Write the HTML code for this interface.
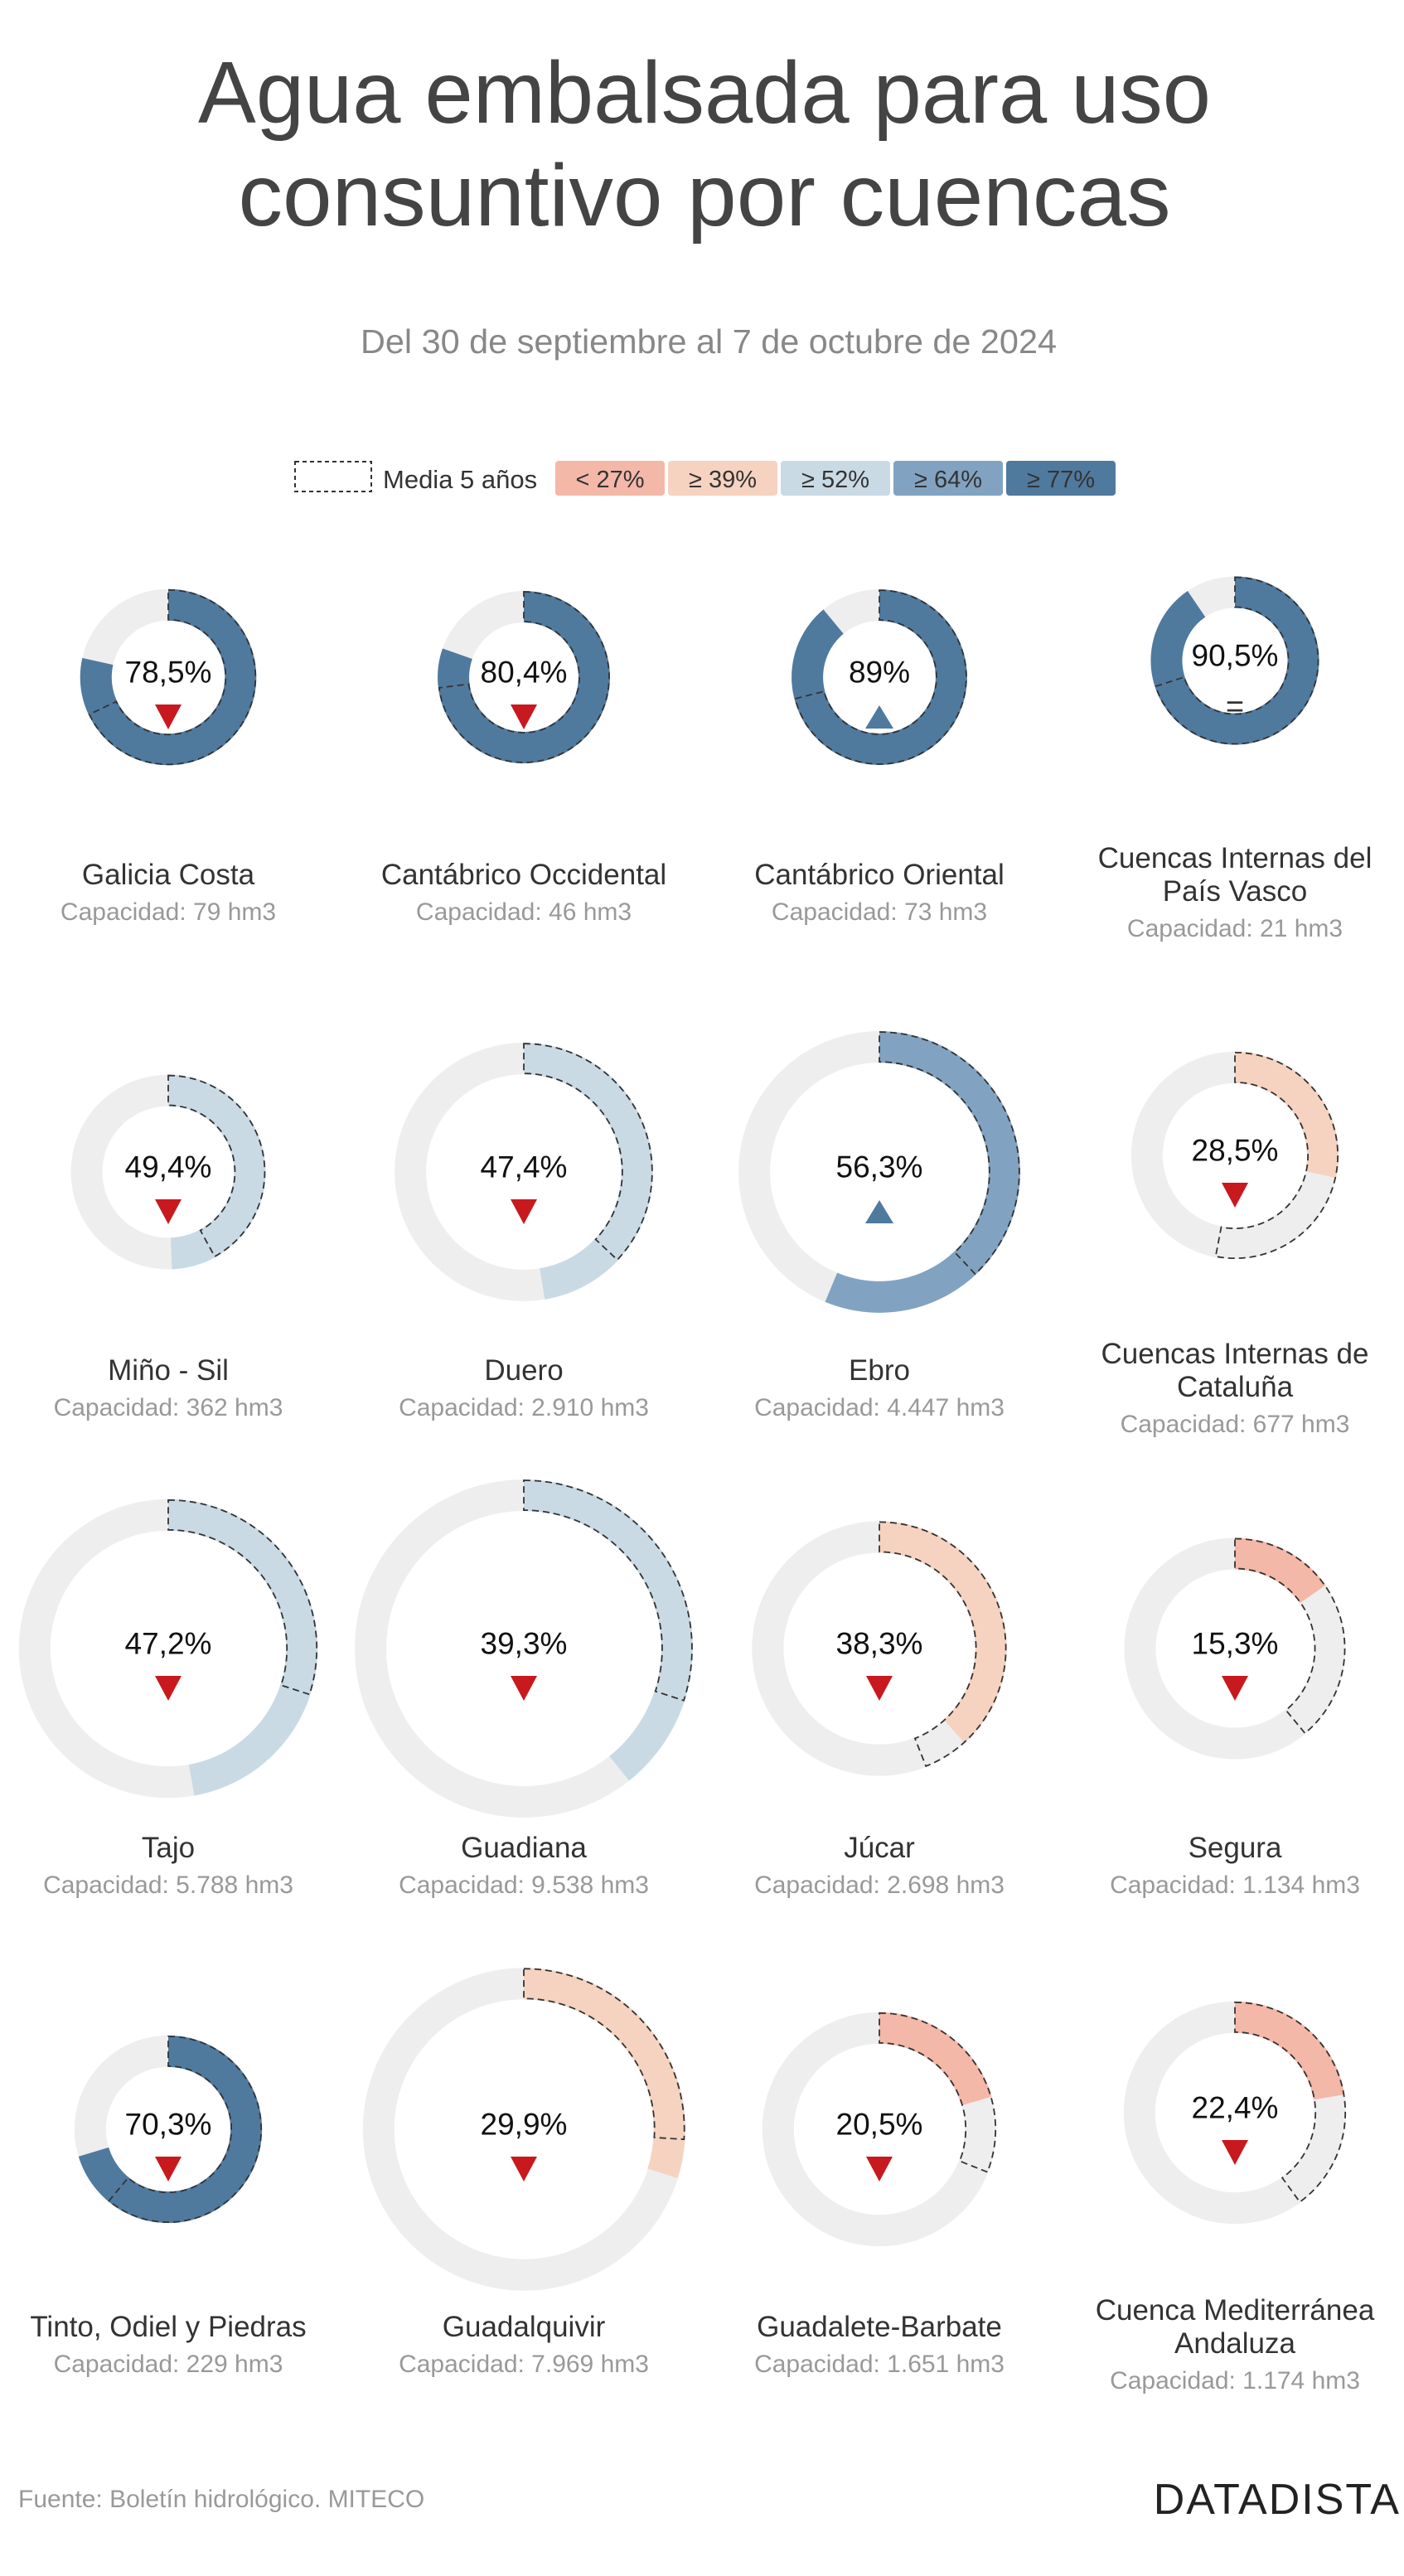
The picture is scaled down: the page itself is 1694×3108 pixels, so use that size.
<!DOCTYPE html>
<html><head><meta charset="utf-8"><style>
html,body{margin:0;padding:0;background:#fff;}
svg{display:block;font-family:"Liberation Sans",sans-serif;}
</style></head><body>
<svg id="chart" width="1694" height="3108" viewBox="0 0 1694 3108" xmlns="http://www.w3.org/2000/svg">
<text x="850" y="148" text-anchor="middle" font-size="106" fill="#444" textLength="1222" lengthAdjust="spacingAndGlyphs">Agua embalsada para uso</text>
<text x="850" y="272" text-anchor="middle" font-size="106" fill="#444" textLength="1125" lengthAdjust="spacingAndGlyphs">consuntivo por cuencas</text>
<text x="855" y="426" text-anchor="middle" font-size="41" fill="#888" textLength="840" lengthAdjust="spacingAndGlyphs">Del 30 de septiembre al 7 de octubre de 2024</text>
<g>
<rect x="356" y="557" width="92" height="36" fill="none" stroke="#333" stroke-width="2" stroke-dasharray="5 4"/>
<text x="462" y="589" font-size="31" fill="#333">Media 5 años</text>
<g id="legendBoxes"></g>
</g>
<g id="donuts"></g>
<text x="22" y="3025" font-size="30" fill="#999">Fuente: Boletín hidrológico. MITECO</text>
<text x="1690" y="3033" text-anchor="end" font-size="52" fill="#222" letter-spacing="2">DATADISTA</text>
</svg>
<script>
const names = [["Galicia Costa"],["Cantábrico Occidental"],["Cantábrico Oriental"],["Cuencas Internas del","País Vasco"],
["Miño - Sil"],["Duero"],["Ebro"],["Cuencas Internas de","Cataluña"],
["Tajo"],["Guadiana"],["Júcar"],["Segura"],
["Tinto, Odiel y Piedras"],["Guadalquivir"],["Guadalete-Barbate"],["Cuenca Mediterránea","Andaluza"]];
const capacities = [79,46,73,21,362,2910,4447,677,5788,9538,2698,1134,229,7969,1651,1174];
const capLabels = ["79","46","73","21","362","2.910","4.447","677","5.788","9.538","2.698","1.134","229","7.969","1.651","1.174"];
const values = [78.5,80.4,89,90.5,49.4,47.4,56.3,28.5,47.2,39.3,38.3,15.3,70.3,29.9,20.5,22.4];
const valueLabels = ["78,5%","80,4%","89%","90,5%","49,4%","47,4%","56,3%","28,5%","47,2%","39,3%","38,3%","15,3%","70,3%","29,9%","20,5%","22,4%"];
const means = [68,73,71,70,42,37,38,53,30,30,44,39,61,26,31,40];
const trends = ["down","down","up","equal","down","down","up","down","down","down","down","down","down","down","down","down"];
const thresholds = [27,39,52,64];
const legendLabels = ["< 27%","≥ 39%","≥ 52%","≥ 64%","≥ 77%"];
const colors = ["#f4b8a8","#f5d3c0","#c9dae5","#81a3c1","#50799e"];

const NS="http://www.w3.org/2000/svg";
function mk(tag,attrs,parent){const e=document.createElementNS(NS,tag);for(const k in attrs)e.setAttribute(k,attrs[k]);parent.appendChild(e);return e;}
function colorFor(v){let i=0;while(i<thresholds.length&&v>=thresholds[i])i++;return colors[i];}
function rScale(c){return 96.5+1.1*Math.sqrt(c);}
function pt(cx,cy,r,f){const a=f*2*Math.PI;return [cx+r*Math.sin(a),cy-r*Math.cos(a)];}
function arcPath(cx,cy,ro,ri,f0,f1){
 if(f1-f0>=0.9999)f1=f0+0.9999;
 const l=(f1-f0)>0.5?1:0;
 const a=pt(cx,cy,ro,f0),b=pt(cx,cy,ro,f1),c=pt(cx,cy,ri,f1),d=pt(cx,cy,ri,f0);
 return `M${a[0]},${a[1]}A${ro},${ro} 0 ${l} 1 ${b[0]},${b[1]}L${c[0]},${c[1]}A${ri},${ri} 0 ${l} 0 ${d[0]},${d[1]}Z`;
}
const lg=document.getElementById('legendBoxes');
legendLabels.forEach((t,i)=>{
 const x=670+i*136;
 const r=mk('rect',{x:x,y:556,width:132,height:42,rx:4,fill:colors[i]},lg);
 
 
 const tx=mk('text',{x:x+66,y:588,'text-anchor':'middle','font-size':29,fill:'#333'},lg);
 
 
 tx.textContent=t;
});
const colX=[203,632,1061,1490];
const rowCy=[817,1414,1989,2569];
const rowNameY=[1067,1665,2241,2819];
const TH=38;
const root=document.getElementById('donuts');
names.forEach((nm,i)=>{
 const col=i%4,row=Math.floor(i/4);
 const two=nm.length>1;
 const cx=colX[col],cy=rowCy[row]-(two?20:0);
 const ro=rScale(capacities[i]),ri=ro-TH;
 const g=mk('g',{},root);
 
 
 const bg=mk('path',{d:arcPath(cx,cy,ro,ri,0,1),fill:'#eeeeee'},g);
 
 
 const v=values[i]/100;
 const fg=mk('path',{d:arcPath(cx,cy,ro,ri,0,v),fill:colorFor(values[i])},g);
 
 
 const m=mk('path',{d:arcPath(cx,cy,ro-1,ri+1,0,means[i]/100),fill:'none',stroke:'#333','stroke-width':1.8,'stroke-dasharray':'8 5'},g);
 
 
 const t=mk('text',{x:cx,y:cy+6.5,'text-anchor':'middle','font-size':37,fill:'#111'},g);
 
 
 t.textContent=valueLabels[i];
 const ay=cy+48;
 let mark;
 if(trends[i]==='down'){mark=mk('path',{d:`M${cx-16},${ay-15}L${cx+16},${ay-15}L${cx},${ay+15}Z`,fill:'#c8191e'},g);}
 else if(trends[i]==='up'){mark=mk('path',{d:`M${cx-17},${ay+14}L${cx+17},${ay+14}L${cx},${ay-14}Z`,fill:'#50799e'},g);}
 else{mark=mk('text',{x:cx,y:cy+68,'text-anchor':'middle','font-size':38,fill:'#333'},g);mark.textContent='=';}
 
 
 let ny=rowNameY[row]-(two?20:0);
 nm.forEach((line,k)=>{
  const n=mk('text',{x:cx,y:ny+k*40,'text-anchor':'middle','font-size':35,fill:'#333'},g);
  
  
  n.textContent=line;
 });
 const c=mk('text',{x:cx,y:ny+(nm.length-1)*40+43,'text-anchor':'middle','font-size':30,fill:'#999'},g);
 
 
 c.textContent='Capacidad: '+capLabels[i]+' hm3';
});
</script>
</body></html>
